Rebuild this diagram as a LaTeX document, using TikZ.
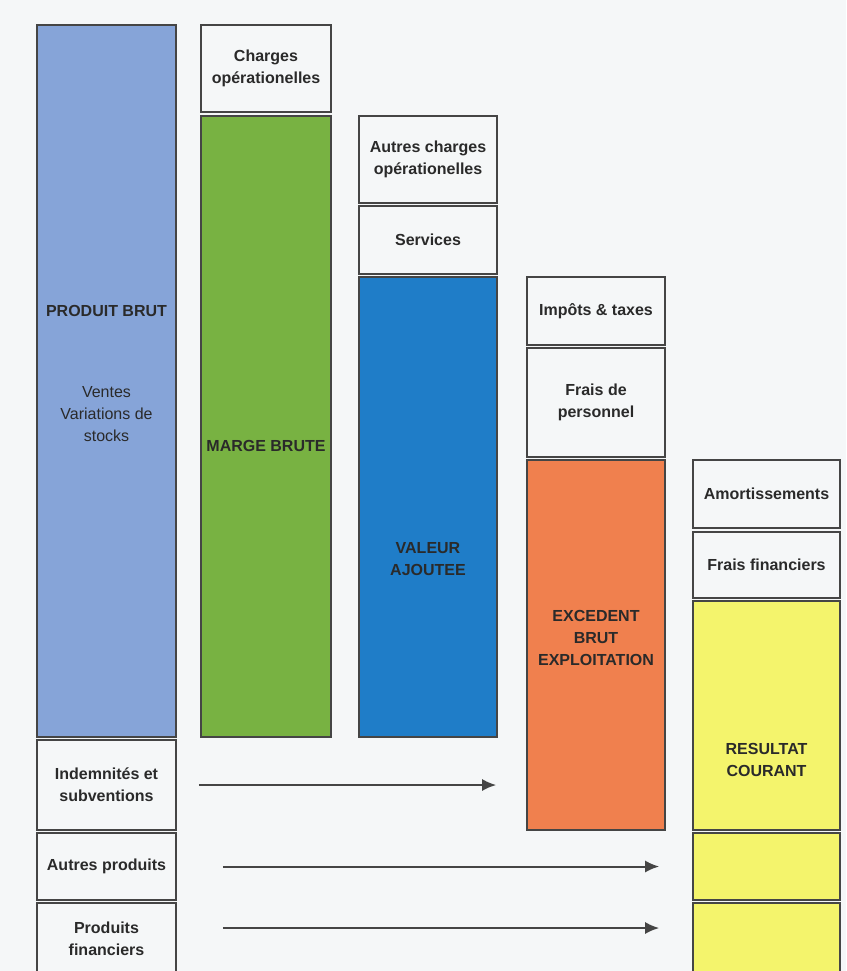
\documentclass[tikz,border=0pt]{standalone}
\usepackage{fontspec}
\setmainfont{Liberation Sans}
\usetikzlibrary{arrows.meta}
\definecolor{paper}{HTML}{F5F7F8}
\definecolor{edgegray}{HTML}{454545}
\definecolor{inkgray}{HTML}{2A2A2A}
\definecolor{brutblue}{HTML}{86A4D8}
\definecolor{margegreen}{HTML}{78B242}
\definecolor{vablue}{HTML}{1F7DC8}
\definecolor{ebeorange}{HTML}{F0804E}
\definecolor{rcyellow}{HTML}{F4F46C}
\tikzset{
    bloc/.style={
        draw=edgegray, line width=1.6pt, fill=paper, inner sep=0pt,
        align=center, text=inkgray,
        font=\fontsize{16}{22}\selectfont\bfseries
    },
    lab/.style={
        align=center, text=inkgray,
        font=\fontsize{16}{22}\selectfont\bfseries
    },
    flux/.style={
        -{Latex[length=14pt,width=12pt]}, line width=2pt, draw=edgegray
    }
}

\begin{document}
\begin{tikzpicture}[x=1pt,y=-1pt]

\fill[paper] (0,0) rectangle (846,971);
\useasboundingbox (0,0) rectangle (846,971);

\def\xA{106.5}
\def\xB{266}
\def\xC{428}
\def\xD{596}
\def\xE{766.5}

% produits
\node[bloc, fill=brutblue, minimum width=139, minimum height=712] (pb) at (\xA,381) {};
\node[bloc, minimum width=139, minimum height=90] (indem) at (\xA,785) {Indemnités et\\subventions};
\node[bloc, minimum width=139, minimum height=67] (autprod) at (\xA,866.5) {Autres produits};
\node[bloc, minimum width=139, minimum height=72] (prodfin) at (\xA,939) {Produits\\financiers};
\node[lab] (pblab) at (\xA,311) {PRODUIT BRUT};
\node[lab, font=\fontsize{16}{22}\selectfont] (venteslab) at (\xA,414) {Ventes\\Variations de\\stocks};

% marge brute
\node[bloc, minimum width=130, minimum height=87] (chop) at (\xB,68.5) {Charges\\opérationelles};
\node[bloc, fill=margegreen, minimum width=130, minimum height=621] (mb) at (\xB,426.5) {};
\node[lab] (mblab) at (\xB,446) {MARGE BRUTE};

% valeur ajoutee
\node[bloc, minimum width=138, minimum height=87] (autch) at (\xC,159.5) {Autres charges\\opérationelles};
\node[bloc, minimum width=138, minimum height=68] (serv) at (\xC,240) {Services};
\node[bloc, fill=vablue, minimum width=138, minimum height=460] (va) at (\xC,507) {};
\node[lab] (valab) at (\xC,559) {VALEUR\\AJOUTEE};

% excedent brut
\node[bloc, minimum width=138, minimum height=68] (impot) at (\xD,311) {Impôts \& taxes};
\node[bloc, minimum width=138, minimum height=109] (perso) at (\xD,402.5) {Frais de\\personnel};
\node[bloc, fill=ebeorange, minimum width=138, minimum height=370] (ebe) at (\xD,645) {};
\node[lab] (ebelab) at (\xD,638) {EXCEDENT\\BRUT\\EXPLOITATION};

% resultat courant
\node[bloc, minimum width=147, minimum height=68] (amort) at (\xE,494) {Amortissements};
\node[bloc, minimum width=147, minimum height=66] (ffin) at (\xE,565) {Frais financiers};
\node[bloc, fill=rcyellow, minimum width=147, minimum height=229] (rc) at (\xE,715.5) {};
\node[bloc, fill=rcyellow, minimum width=147, minimum height=67] (rcb) at (\xE,866.5) {};
\node[bloc, fill=rcyellow, minimum width=147, minimum height=72] (rcc) at (\xE,939) {};
\node[lab] (rclab) at (\xE,760) {RESULTAT\\COURANT};

% fleches
\draw[flux, shorten <=22pt, shorten >=30pt] (indem.east) -- (indem.east -| ebe.west);
\draw[flux, shorten <=46pt, shorten >=33pt] (autprod.east) -- (autprod.east -| rcb.west);
\draw[flux, shorten <=46pt, shorten >=33pt] ([yshift=11pt]prodfin.east) -- ([yshift=11pt]prodfin.east -| rcc.west);

\end{tikzpicture}
\end{document}
